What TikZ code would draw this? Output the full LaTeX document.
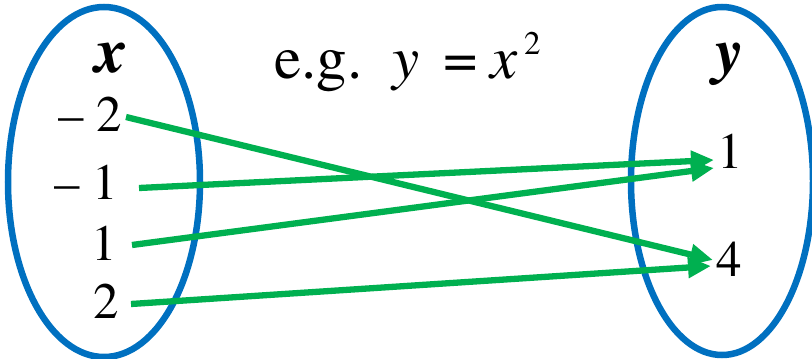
\documentclass[tikz,border=0pt]{standalone}
\usepackage{fontspec}
\setmainfont{texgyretermes}[Extension=.otf, UprightFont=*-regular, BoldFont=*-bold, ItalicFont=*-italic, BoldItalicFont=*-bolditalic]
\usetikzlibrary{arrows.meta}
\definecolor{setblue}{HTML}{0070C0}
\definecolor{mapgreen}{HTML}{00B050}
\tikzset{
  setring/.style={draw=setblue, line width=6.5pt},
  numlbl/.style={inner sep=0pt, font=\fontsize{51}{51}\selectfont},
  varlbl/.style={inner sep=0pt, font=\fontsize{64}{64}\selectfont\bfseries\itshape},
  maparrow/.style={draw=mapgreen, line width=6.3pt, -{Triangle[length=23pt,width=20pt]}}
}
\begin{document}
\begin{tikzpicture}[x=1pt,y=-1pt]
\useasboundingbox (0,0) rectangle (812,359);
% sets
\draw[setring] (104,182) ellipse [x radius=96pt, y radius=175pt];
\draw[setring] (722,181) ellipse [x radius=91pt, y radius=174pt];
% labels
\node[varlbl, anchor=base] (xl) at (111,72) {x};
\node[varlbl, anchor=base] (yl) at (730,72) {y};
\node[inner sep=0pt, anchor=base west, font=\fontsize{61}{61}\selectfont] (eq) at (274,78)
  {e.g.\hspace{0.5em}\textit{y}\hspace{0.38em}=\hspace{0.22em}\textit{x}\hspace{0.1em}\raisebox{24pt}{\fontsize{33}{33}\selectfont 2}};
% domain
\node[numlbl, anchor=base east] (a1) at (122,131) {– 2};
\node[numlbl, anchor=base east] (a2) at (118,199) {– 1};
\node[numlbl, anchor=base east] (a3) at (117,260) {1};
\node[numlbl, anchor=base east] (a4) at (119,318) {2};
% codomain
\node[numlbl, anchor=base west] (b1) at (717,168) {1};
\node[numlbl, anchor=base west] (b4) at (716,276) {4};
% arrow ends
\coordinate (s1) at (126,117);
\coordinate (s2) at (139,188);
\coordinate (s3) at (132,245);
\coordinate (s4) at (131,304);
\coordinate (t1) at (713,260);
\coordinate (t2) at (714,160);
\coordinate (t3) at (714,168);
\coordinate (t4) at (711,266);
\draw[maparrow] (s1) -- (t1);
\draw[maparrow] (s2) -- (t2);
\draw[maparrow] (s3) -- (t3);
\draw[maparrow] (s4) -- (t4);
\end{tikzpicture}
\end{document}
